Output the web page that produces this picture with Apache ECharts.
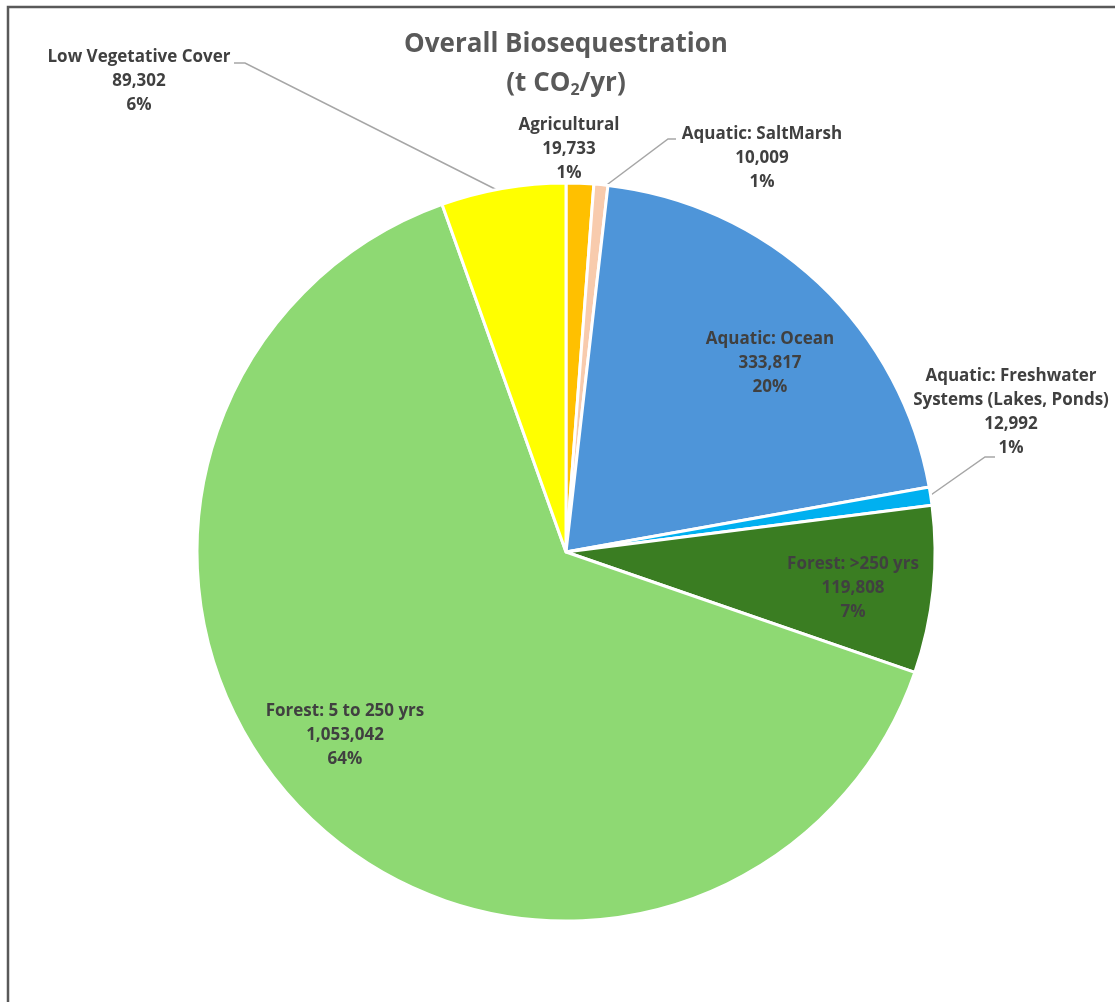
<!DOCTYPE html>
<html>
<head>
<meta charset="utf-8">
<script src="https://cdn.jsdelivr.net/npm/echarts@6/dist/echarts.min.js"></script>
<style>
html,body{margin:0;padding:0;background:#fff;}
#chart{width:1115px;height:1002px;}
</style>
</head>
<body>
<div id="chart"></div>
<script>
// ---- data ----
const categories = [
  'Agricultural',
  'Aquatic: SaltMarsh',
  'Aquatic: Ocean',
  'Aquatic: Freshwater\nSystems (Lakes, Ponds)',
  'Forest: >250 yrs',
  'Forest: 5 to 250 yrs',
  'Low Vegetative Cover'
];
const values = [19733, 10009, 333817, 12992, 119808, 1053042, 89302];
const colors = ['#FFC000', '#F8CBAD', '#4E95D9', '#00B0F0', '#3A7D22', '#8ED973', '#FFFF00'];

// ---- label placement (layout, not data) ----
const labelPlacement = [
  { x: 569, y: 149, line: [[579, 185], [579, 189]] },
  { x: 762, y: 158, line: [[676, 139], [668, 139], [600, 190]] },
  { x: 770, y: 363 },
  { x: 1011, y: 412, line: [[995, 457], [985, 457], [928, 497]] },
  { x: 853, y: 588 },
  { x: 345, y: 735 },
  { x: 139, y: 81, line: [[234, 63], [245, 63], [503, 193]] }
];

const FONT = '"Open Sans", "Noto Sans", sans-serif';
const chart = echarts.init(document.getElementById('chart'));

const option = {
  backgroundColor: '#ffffff',
  animation: false,
  title: {
    text: 'Overall Biosequestration\n(t CO{sub|2}/yr)',
    left: 566,
    top: 25,
    padding: 0,
    textAlign: 'center',
    textStyle: {
      fontFamily: FONT,
      fontSize: 26,
      fontWeight: 'bold',
      color: '#595959',
      lineHeight: 39,
      rich: {
        sub: {
          fontFamily: FONT,
          fontSize: 16,
          fontWeight: 'bold',
          color: '#595959',
          padding: [13, 0, 0, 0]
        }
      }
    }
  },
  graphic: [{
    type: 'polyline',
    shape: { points: [[8, 1002], [8, 7], [1115, 7]] },
    style: { stroke: '#595959', lineWidth: 2.5, fill: null },
    silent: true
  }],
  series: [{
    type: 'pie',
    center: [566, 552],
    radius: 369,
    startAngle: 90,
    clockwise: true,
    avoidLabelOverlap: false,
    percentPrecision: 0,
    itemStyle: { borderColor: '#ffffff', borderWidth: 3 },
    emphasis: { disabled: true },
    label: {
      show: true,
      position: 'outside',
      fontFamily: FONT,
      fontSize: 17,
      fontWeight: 'bold',
      color: '#404040',
      lineHeight: 24,
      align: 'center',
      formatter: function (p) {
        return p.name + '\n' + p.value.toLocaleString('en-US') + '\n' + p.percent + '%';
      }
    },
    labelLine: {
      show: true,
      lineStyle: { color: '#A6A6A6', width: 1.5 }
    },
    labelLayout: function (p) {
      const lp = labelPlacement[p.dataIndex];
      const r = { x: lp.x, y: lp.y, align: 'center', verticalAlign: 'middle' };
      if (lp.line) r.labelLinePoints = lp.line;
      return r;
    },
    data: categories.map(function (name, i) {
      return {
        name: name,
        value: values[i],
        itemStyle: { color: colors[i] },
        labelLine: { show: !!labelPlacement[i].line }
      };
    })
  }]
};
chart.setOption(option);
</script>
</body>
</html>
